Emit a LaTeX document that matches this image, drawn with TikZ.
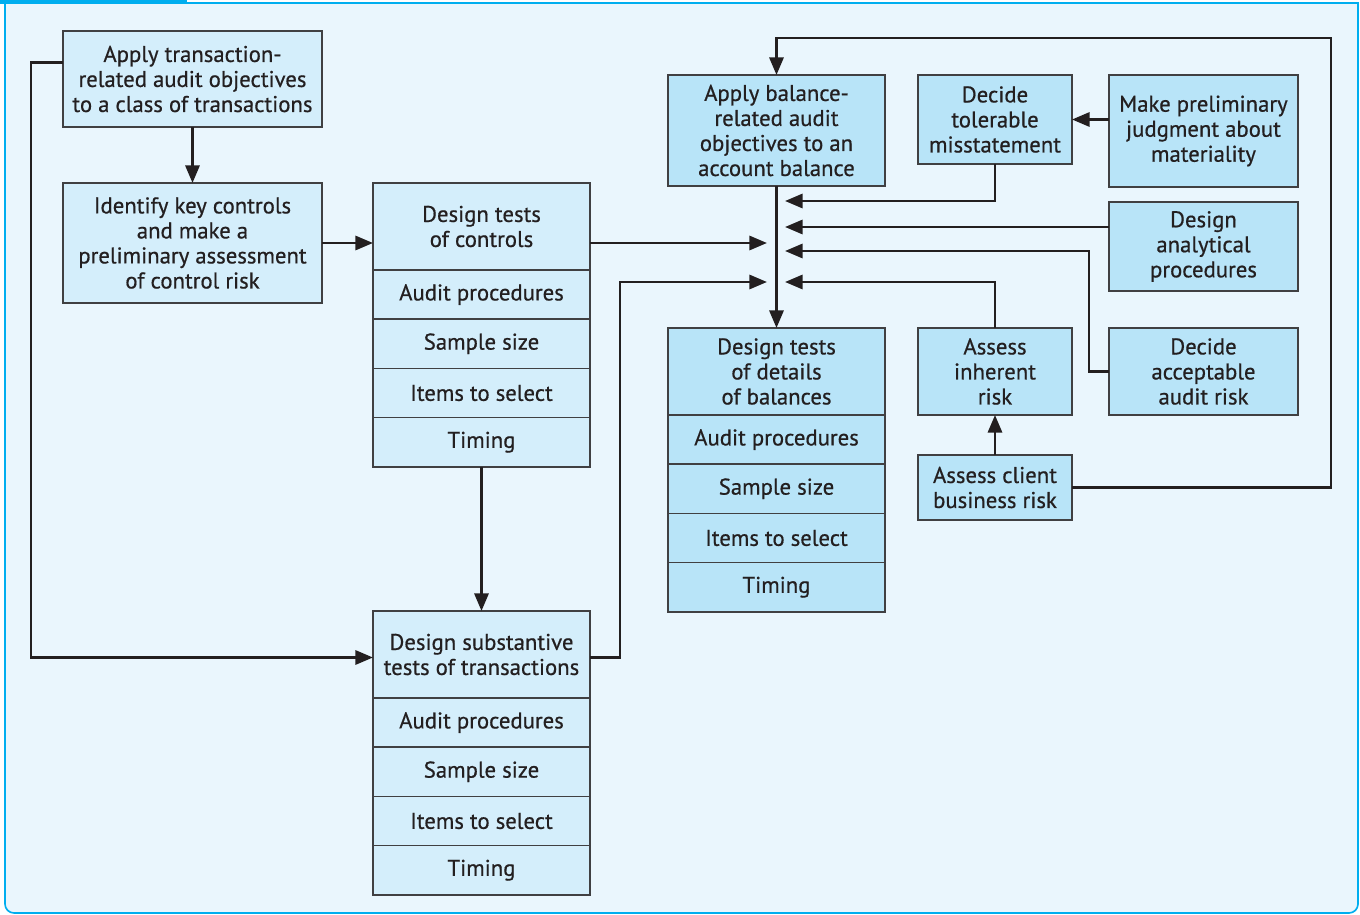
\documentclass[tikz,border=0pt]{standalone}
\usepackage{fontspec}
\setmainfont{PT Sans}[FakeBold=0.6]
\usepackage{xcolor}
\definecolor{adpage}{RGB}{234,246,253}
\definecolor{adframe}{RGB}{0,174,239}
\definecolor{adlight}{RGB}{212,238,251}
\definecolor{addark}{RGB}{184,228,248}
\definecolor{adline}{RGB}{64,64,66}
\definecolor{adink}{RGB}{35,31,32}
\usetikzlibrary{arrows.meta,positioning,calc}
\newlength\px
\setlength\px{0.017cm}

\begin{document}
\begin{tikzpicture}[x=0.017cm,y=-0.017cm,
    lbox/.style={draw=adline,fill=adlight,line width=0.85pt,align=center,inner sep=0pt,
      outer sep=0pt,text=adink,font=\fontsize{11}{12.1}\selectfont\addfontfeature{FakeBold=0.6}},
    rbox/.style={lbox,fill=addark},
    lrow/.style={lbox,minimum width=217\px,minimum height=49.2\px,below=0pt of #1},
    rrow/.style={rbox,minimum width=217\px,minimum height=49.2\px,below=0pt of #1},
    flow/.style={draw=adink,line width=1.35pt,-{Triangle[length=8.5pt,width=6.8pt]}},
    link/.style={draw=adink,line width=1.35pt}]
  \useasboundingbox (0,0) rectangle (1360,915);
  \path[fill=adpage,draw=adframe,line width=0.8pt] (5,3) [rounded corners=9\px] -- (5,913)
    -- (1358,913) [sharp corners] -- (1358,3) -- cycle;
  \fill[adframe] (0,0) rectangle (187,4);

  % transactions side
  \node[lbox,minimum width=259\px,minimum height=96\px] (transobj) at (192.5,79)
    {Apply transaction-\\related audit objectives\\to a class of transactions};
  \node[lbox,minimum width=259\px,minimum height=120\px] (keyctrl) at (192.5,243)
    {Identify key controls\\and make a\\preliminary assessment\\of control risk};
  \node[lbox,minimum width=217\px,minimum height=87\px] (ctrlhead) at (481.5,226.5)
    {Design tests\\of controls};
  \node[lrow=ctrlhead] (ctrlproc) {Audit procedures};
  \node[lrow=ctrlproc] (ctrlsize) {Sample size};
  \node[lrow=ctrlsize] (ctrlitems) {Items to select};
  \node[lrow=ctrlitems] (ctrltime) {Timing};
  \node[lbox,minimum width=217\px,minimum height=87\px] (subhead) at (481.5,654.5)
    {Design substantive\\tests of transactions};
  \node[lrow=subhead] (subproc) {Audit procedures};
  \node[lrow=subproc] (subsize) {Sample size};
  \node[lrow=subsize] (subitems) {Items to select};
  \node[lrow=subitems] (subtime) {Timing};

  % balances side
  \node[rbox,minimum width=217\px,minimum height=111\px] (balobj) at (776.5,130.5)
    {Apply balance-\\related audit\\objectives to an\\account balance};
  \node[rbox,minimum width=217\px,minimum height=87\px] (dethead) at (776.5,371.5)
    {Design tests\\of details\\of balances};
  \node[rrow=dethead] (detproc) {Audit procedures};
  \node[rrow=detproc] (detsize) {Sample size};
  \node[rrow=detsize] (detitems) {Items to select};
  \node[rrow=detitems] (dettime) {Timing};
  \node[rbox,minimum width=154\px,minimum height=89\px] (tolmis) at (995,119.5)
    {Decide\\tolerable\\misstatement};
  \node[rbox,minimum width=189\px,minimum height=112\px] (materl) at (1203.5,131)
    {Make preliminary\\judgment about\\materiality};
  \node[rbox,minimum width=189\px,minimum height=89\px] (analyt) at (1203.5,246.5)
    {Design\\analytical\\procedures};
  \node[rbox,minimum width=189\px,minimum height=87\px] (accrisk) at (1203.5,371.5)
    {Decide\\acceptable\\audit risk};
  \node[rbox,minimum width=154\px,minimum height=87\px] (inhrisk) at (995,371.5)
    {Assess\\inherent\\risk};
  \node[rbox,minimum width=154\px,minimum height=65\px] (bizrisk) at (995,487.5)
    {Assess client\\business risk};

  \coordinate (inL1) at (767,243);
  \coordinate (inL2) at (767,282);
  \coordinate (inR1) at (785,201);
  \coordinate (inR2) at (785,227);
  \coordinate (inR3) at (785,251);
  \coordinate (inR4) at (785,282);
  \coordinate (loop) at (1331,38);

  \draw[flow] (transobj) -- (keyctrl);
  \draw[flow] (keyctrl.east) -- (keyctrl.east -| ctrlhead.west);
  \draw[flow] ($(transobj.north west)!0.33!(transobj.south west)$) -- ++(-32,0) |- ([yshift=-3\px]subhead.west);
  \draw[flow] (ctrltime) -- (subhead);
  \draw[flow] (ctrlhead.east |- inL1) -- (inL1);
  \draw[flow] ([yshift=-3\px]subhead.east) -- ++(30,0) |- (inL2);
  \draw[flow] (balobj) -- (dethead);
  \draw[flow] (materl.west |- tolmis.east) -- (tolmis.east);
  \draw[flow] (tolmis.south) |- (inR1);
  \draw[flow] (analyt.west |- inR2) -- (inR2);
  \draw[flow] (accrisk.west) -- ++(-20,0) |- (inR3);
  \draw[flow] (inhrisk.north) |- (inR4);
  \draw[flow] (bizrisk) -- (inhrisk);
  \draw[flow] (bizrisk.east) -| (loop) -| (balobj.north);
\end{tikzpicture}
\end{document}
